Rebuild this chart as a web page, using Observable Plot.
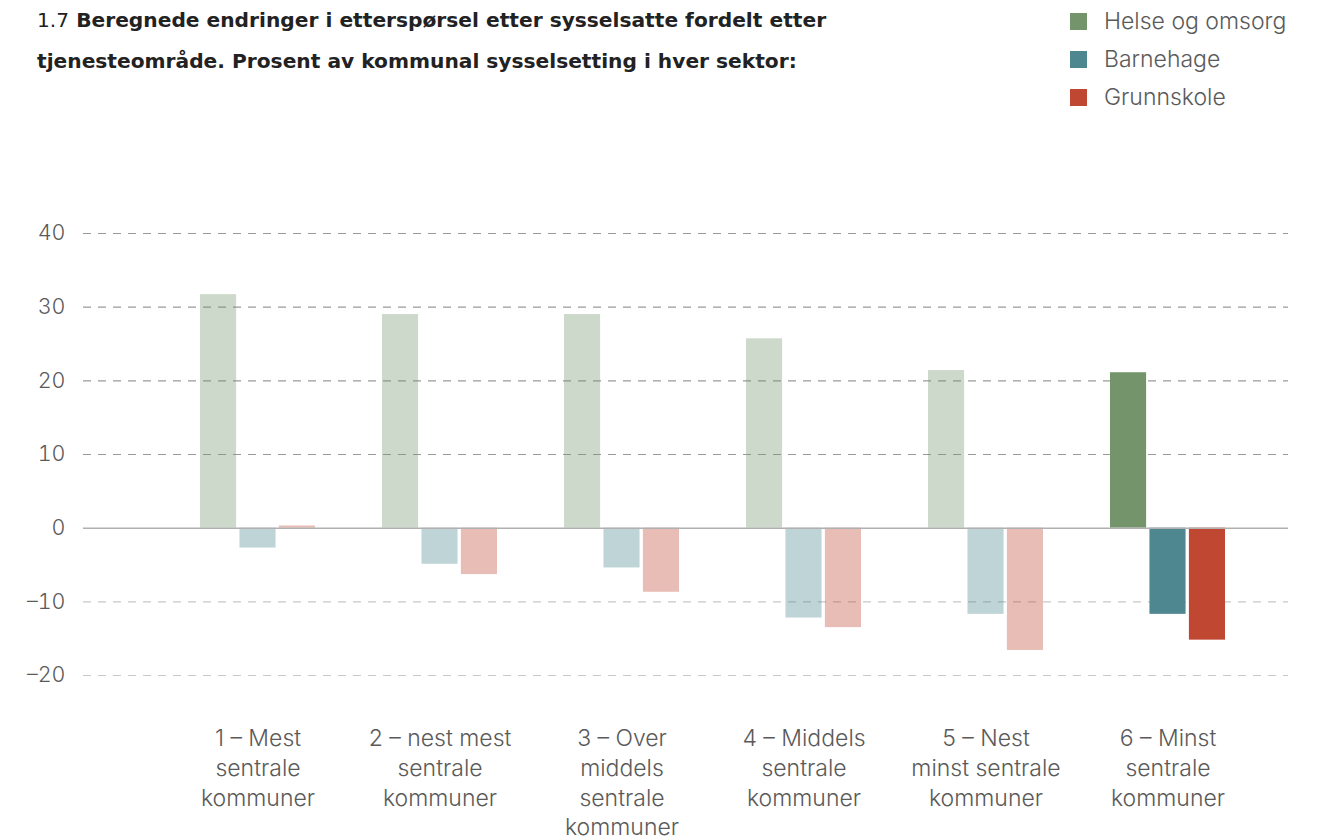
<!DOCTYPE html>
<html><head><meta charset="utf-8">
<script src="https://cdn.jsdelivr.net/npm/d3@7"></script>
<script src="https://cdn.jsdelivr.net/npm/@observablehq/plot@0.6"></script>
<style>
body{margin:0;background:#fff;font-family:Inter,"Noto Sans",sans-serif;}
#wrap{position:relative;width:1323px;height:837px;overflow:hidden;}
#header{position:relative;height:130px;}
#title{position:absolute;left:37px;top:0px;font-family:"DejaVu Sans",sans-serif;font-size:20.2px;line-height:41px;color:#222;font-weight:700;}
#title .num{font-weight:400;}
#legend{position:absolute;left:1070px;top:2px;font-size:23px;color:#5a5a5a;font-weight:300;}
.li{display:flex;align-items:center;height:38px;}
.sw{width:17px;height:17px;margin-right:17px;}
svg text{font-weight:300;}
</style></head>
<body><div id="wrap">
<div id="header">
<div id="title"><span class="num">1.7</span> Beregnede endringer i etterspørsel etter sysselsatte fordelt etter<br>tjenesteområde. Prosent av kommunal sysselsetting i hver sektor:</div>
<div id="legend"></div>
</div>
<div id="chart"></div>
</div>
<script>
const categories = [
  "1 – Mest\nsentrale\nkommuner",
  "2 – nest mest\nsentrale\nkommuner",
  "3 – Over\nmiddels\nsentrale\nkommuner",
  "4 – Middels\nsentrale\nkommuner",
  "5 – Nest\nminst sentrale\nkommuner",
  "6 – Minst\nsentrale\nkommuner"
];
const seriesNames = ["Helse og omsorg", "Barnehage", "Grunnskole"];
const seriesColors = ["#74956c", "#4e8790", "#c04732"];
const helse = [31.7, 29.0, 29.0, 25.7, 21.4, 21.1];
const barnehage = [-2.7, -4.9, -5.4, -12.2, -11.7, -11.7];
const grunnskole = [0.3, -6.3, -8.7, -13.5, -16.6, -15.2];
const highlighted = "6 – Minst\nsentrale\nkommuner";
const yTicks = [-20, -10, 0, 10, 20, 30, 40];

const seriesValues = [helse, barnehage, grunnskole];
const rows = [];
seriesNames.forEach((s, si) => categories.forEach((c, ci) => rows.push({series: s, cat: c, value: seriesValues[si][ci]})));

// legend
const lg = document.getElementById("legend");
seriesNames.forEach((s, i) => {
  const d = document.createElement("div"); d.className = "li";
  d.innerHTML = `<div class="sw" style="background:${seriesColors[i]}"></div><span>${s}</span>`;
  lg.appendChild(d);
});

const bw = 114.9, barW = 36, gap = (bw - 3 * barW) / 2;
const insets = [[0, bw - barW], [barW + gap, barW + gap], [bw - barW, 0]];

const chart = Plot.plot({
  width: 1323,
  height: 707,
  marginLeft: 83,
  marginRight: 35,
  marginTop: 103,
  marginBottom: 162,
  style: {fontFamily: "Inter, 'Noto Sans', sans-serif", color: "#5a5a5a", background: "#fff"},
  x: {domain: categories, range: [165, 1259.4], paddingInner: 0.37, paddingOuter: 0.185, label: null},
  y: {domain: [-20, 40], label: null},
  marks: [
    Plot.ruleY(yTicks.filter(d => d > 0), {stroke: "#9a9a9a", strokeWidth: 1.2, strokeDasharray: "8,7"}),
    Plot.ruleY(yTicks.filter(d => d < 0), {stroke: "#c8c8c8", strokeWidth: 1.2, strokeDasharray: "8,7"}),
    ...seriesNames.map((s, i) => Plot.barY(rows.filter(r => r.series === s), {
      x: "cat", y: "value", fill: seriesColors[i],
      fillOpacity: r => r.cat === highlighted ? 1 : 0.36,
      insetLeft: insets[i][0], insetRight: insets[i][1]
    })),
    Plot.ruleY([0], {stroke: "#b0b0b0", strokeWidth: 1.5}),
    Plot.axisY({ticks: yTicks, tickSize: 0, tickPadding: 18, fontSize: 21.5, tickFormat: d => d < 0 ? "–" + (-d) : String(d), fill: "#5a5a5a"}),
    Plot.axisX({tickSize: 0, tickPadding: 49, fontSize: 23, lineHeight: 1.3, fill: "#5a5a5a", label: null})
  ]
});
document.getElementById("chart").appendChild(chart);
</script>
</body></html>
